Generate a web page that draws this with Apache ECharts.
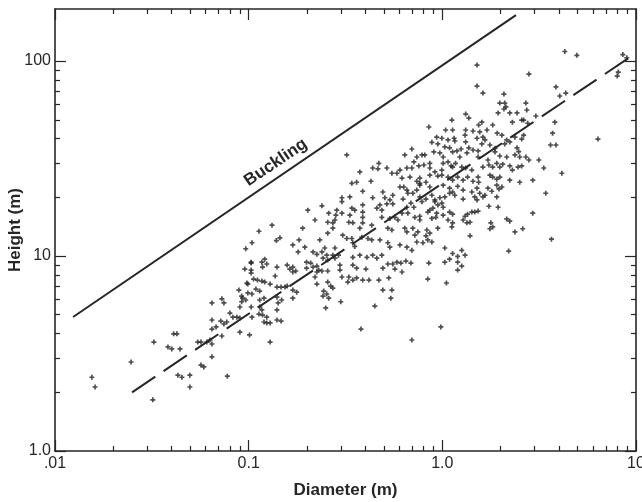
<!DOCTYPE html>
<html><head><meta charset="utf-8">
<script src="https://cdn.jsdelivr.net/npm/echarts@6/dist/echarts.min.js"></script>
<style>html,body{margin:0;padding:0;background:#fff}#c{width:642px;height:502px}</style>
</head><body><div id="c"></div><script>
// ---- axis ticks / labels ----
const xLabelValues = [0.01, 0.1, 1, 10];
const xLabelText = ['.01', '0.1', '1.0', '10'];
const xMinorValues = [0.02,0.03,0.04,0.05,0.06,0.07,0.08,0.09,0.2,0.3,0.4,0.5,0.6,0.7,0.8,0.9,2,3,4,5,6,7,8,9];
const yLabelValues = [1, 10, 100];
const yLabelText = ['1.0', '10', '100'];
const yMinorValues = [2,3,4,5,6,7,8,9,20,30,40,50,60,70,80,90];
const xRange = [0.01, 10];
const yRange = [1, 185];

// ---- reference lines ----
const bucklingLine = [[0.0124, 4.87], [2.4, 172]];
const fitLine = [[0.025, 2.0], [10, 110]];
const bucklingLabelAt = [0.138, 30.2];

// ---- trees: [diameter (m), height (m)] ----
const treesSmall = [
[0.0155,2.39],[0.0161,2.13],[0.0247,2.86],[0.032,1.83],[0.0324,3.62],[0.0383,3.42],[0.0401,3.34],[0.0442,3.34],[0.041,3.99],[0.0426,3.99],
[0.0546,3.62],[0.0567,3.62],[0.0567,2.76],[0.0587,2.7],[0.0431,2.45],[0.0452,2.39],[0.0497,2.45],[0.0497,2.13],
[0.0646,5.75],[0.0646,4.7],[0.0646,4.22],[0.0646,3.54],[0.0646,3.04],[0.0727,6.03],[0.0745,5.75],
[0.0679,4.33],[0.0718,4.64],[0.0745,4.48],[0.0771,4.59],[0.08,5.1],[0.0829,4.86],[0.0869,4.86],[0.0901,4.81],
[0.0776,2.42],[0.0901,5.48],[0.0978,7.27],[0.099,6.47],[0.0966,5.95],[0.101,3.94],[0.103,9.2],[0.103,8.47],[0.104,4.86],
[0.0631,3.71],[0.0608,3.62],[0.0727,3.89],[0.0901,4.07],[0.093,6.08],[0.092,5.83]
];
const treesMid = [
[0.239,18.1],[0.202,17.2],[0.22,15.3],[0.256,14.9],[0.132,14.4],[0.113,13.4],[0.19,13.9],[0.256,13.1],[0.145,12.4],[0.139,12.0],
[0.104,11.7],[0.182,12.1],[0.169,11.4],[0.18,10.5],[0.195,11.1],[0.233,12.1],[0.0966,10.9],
[0.215,10.5],[0.225,10.2],[0.239,10.5],[0.247,11.0],[0.253,10.1],[0.242,9.75],[0.256,9.53],
[0.103,9.3],[0.117,9.3],[0.121,9.64],[0.124,9.1],[0.118,8.78],[0.0955,8.57],[0.103,8.18],[0.14,8.78],
[0.158,8.99],[0.163,8.57],[0.169,8.78],[0.175,8.38],[0.169,8.28],
[0.199,9.3],[0.209,9.2],[0.199,8.67],[0.215,8.78],[0.225,8.88],[0.225,8.28],[0.23,8.47],[0.256,8.38],[0.137,7.9],
[0.106,7.62],[0.111,7.53],[0.117,7.44],[0.121,7.35],[0.099,7.18],[0.129,7.18],[0.22,7.81],[0.225,7.18],[0.256,7.35],
[0.14,6.93],[0.147,6.93],[0.154,6.93],[0.158,7.01],[0.109,6.77],[0.114,6.61],[0.089,6.69],[0.092,6.23],[0.104,6.39],[0.169,6.69],[0.177,6.53],
[0.103,5.48],[0.114,5.95],[0.12,6.08],[0.14,6.15],[0.142,5.75],[0.148,5.95],[0.169,6.08],
[0.114,5.48],[0.117,5.29],[0.113,5.04],[0.118,4.98],[0.124,4.86],[0.12,4.59],[0.124,4.54],[0.129,4.54],
[0.14,5.29],[0.25,5.42],[0.14,4.7],[0.147,4.64],[0.129,3.62]
];
const treesLarge = [
[0.852,45.9],[0.883,38.3],[0.696,35.4],[0.64,33.0],[0.713,30.4],[0.738,32.2],[0.785,33.0],[0.812,33.0],[0.904,34.2],[0.321,33.0],[0.47,29.9],[0.465,28.0],
[0.437,28.3],[0.517,28.3],[0.549,26.6],[0.583,26.6],[0.604,27.6],[0.375,27.0],[0.656,28.3],[0.696,28.3],[0.756,29.0],[0.803,29.3],[0.862,28.3],[0.915,27.0],
[0.68,25.4],[0.738,24.2],[0.765,23.6],[0.765,25.1],[0.823,23.9],[0.862,22.6],[0.619,25.1],[0.632,22.6],[0.341,23.6],[0.361,23.9],[0.428,24.2],[0.493,21.3],[0.505,19.9],[0.388,21.5],
[0.604,22.6],[0.656,21.8],[0.664,21.0],[0.704,21.0],[0.738,21.8],[0.765,23.1],[0.303,19.9],[0.303,19.0],[0.333,20.1],[0.437,19.9],
[0.555,20.5],[0.536,19.4],[0.517,18.5],[0.555,18.5],[0.627,19.6],[0.656,17.8],[0.688,18.7],[0.713,17.8],[0.765,20.1],[0.785,19.0],[0.823,19.6],[0.883,20.5],[0.915,19.4],[0.894,17.6],
[0.476,18.3],[0.459,17.6],[0.487,17.2],[0.341,17.6],[0.353,17.2],[0.388,18.3],[0.388,16.8],
[0.259,16.6],[0.285,17.2],[0.303,16.6],[0.282,16.2],[0.333,16.2],
[0.487,15.8],[0.536,15.6],[0.569,15.8],[0.59,15.3],[0.619,16.6],[0.664,16.6],[0.721,15.8],[0.765,16.0],[0.765,15.3],[0.841,16.8],[0.883,15.6],[0.926,15.8],
[0.272,14.8],[0.279,15.3],[0.329,14.9],[0.345,14.8],[0.388,15.8],[0.388,14.8],[0.432,14.4],[0.375,13.9],[0.523,13.9],[0.549,13.6],[0.64,13.9],[0.656,13.3],
[0.704,13.9],[0.747,13.3],[0.721,12.8],[0.832,13.6],[0.862,13.1],[0.823,12.7],[0.272,13.9],[0.306,12.8],[0.321,12.3],[0.341,12.3],[0.345,11.7],[0.353,11.2],
[0.384,12.5],[0.413,12.3],[0.432,12.1],[0.476,12.1],[0.523,11.7],[0.536,11.1],[0.604,11.4],[0.656,11.1],[0.696,10.7],[0.738,11.8],[0.794,11.7],[0.841,12.1],
[0.279,11.0],[0.272,10.1],
[0.345,9.85],[0.375,10.1],[0.408,9.85],[0.437,10.1],[0.459,9.75],[0.487,10.1],
[0.279,9.75],[0.291,10.1],[0.239,8.38],[0.296,8.99],[0.296,8.47],[0.345,8.99],[0.361,8.67],[0.403,8.57],
[0.493,8.67],[0.523,9.1],[0.555,9.1],[0.583,9.3],[0.611,9.2],[0.648,9.42],[0.688,9.2],[0.569,8.57],[0.619,8.28],[0.852,9.2],
[0.303,7.81],[0.329,7.81],[0.325,7.35],[0.345,7.53],[0.361,7.72],[0.388,7.53],[0.418,7.53],[0.47,7.53],[0.529,7.72],[0.841,7.62],[1.05,7.27],
[0.265,7.01],[0.272,6.85],[0.244,6.61],[0.242,6.23],[0.253,6.39],[0.259,6.08],[0.493,6.69],[0.549,6.69],[0.542,6.08],[0.299,5.83],[0.448,5.54],[0.38,4.22],[0.982,4.33],[0.696,3.71]
];
const treesGiant = [
[1.51,95.4],[2.8,85.8],[1.51,74.4],[1.62,68.5],[2.08,67.7],[1.98,60.9],[2.1,60.9],[2.13,58.2],[2.08,56.8],[2.7,60.9],[2.73,56.1],[1.32,53.5],[1.37,51.0],[1.94,54.2],[2.23,54.2],[2.43,54.2],
[2.3,48.6],[2.57,49.8],[2.63,49.8],[2.76,48.0],[3.04,52.3],[1.12,49.8],[1.6,48.6],[1.54,47.0],[1.82,47.0],[1.7,44.3],
[1.04,44.3],[1.13,44.3],[1.32,44.3],[1.44,43.8],[1.31,41.7],[1.56,43.3],[1.62,40.7],[1.51,40.2],[1.66,39.4],[1.6,37.6],
[1.92,42.7],[2.03,41.7],[2.15,39.4],[2.23,38.5],[2.1,37.6],[2.37,40.7],[2.57,39.8],[2.63,41.7],
[0.935,40.7],[0.994,40.2],[1.07,39.4],[1.15,40.2],[1.16,38.9],[0.948,37.6],[1.03,36.3],[1.09,35.9],[1.32,38.5],[1.37,35.9],[1.25,35.4],[1.76,37.1],[1.87,35.7],[2.43,35.9],[2.48,34.3],
[0.971,33.8],[1.01,32.2],[1.13,34.2],[1.19,34.6],[1.23,32.2],[1.34,33.8],[1.44,35.0],[1.53,34.6],[1.53,32.2],[1.87,34.2],[1.98,32.6],[2.15,32.2],[2.37,33.0],[2.51,32.2],[2.7,32.2],[2.8,31.1],[3.15,31.1],
[0.862,29.9],[0.994,27.6],[1.01,29.9],[1.07,30.4],[1.11,29.0],[1.13,28.6],[1.17,29.9],[1.26,28.6],[1.32,28.3],[1.42,27.6],[1.72,31.1],[1.74,29.3],[1.62,28.6],[1.82,28.6],[1.91,29.9],[1.98,28.6],[2.05,29.6],[2.23,29.0],[2.3,27.6],[2.46,28.6],[2.57,29.0],[3.34,28.3],
[0.862,26.0],[0.948,25.7],[0.994,26.0],[1.07,25.4],[1.13,24.5],[1.2,25.4],[1.28,24.5],[1.35,25.4],[1.44,24.2],[1.53,25.4],[1.54,23.9],[1.76,26.0],[1.82,25.4],[1.91,24.8],[1.98,25.4],[2.23,24.5],[2.51,23.9],[2.93,24.5],
[1.01,23.1],[1.09,22.3],[1.13,21.3],[1.2,22.8],[1.28,21.8],[1.42,21.3],[1.51,22.3],[1.56,21.0],[1.91,23.1],[2.03,22.6],[1.96,22.1],[1.72,22.3],[1.8,21.5],[3.42,21.0],
[0.971,19.9],[1.03,20.1],[1.09,21.0],[1.16,20.5],[1.28,19.6],[1.47,20.1],[1.51,19.4],[1.62,20.1],[1.66,20.5],[1.91,20.1],
[0.915,19.0],[0.948,18.3],[1.01,17.8],[0.994,18.7],[1.74,18.0],[1.94,17.8],[2.93,16.6],
[0.862,17.2],[0.935,16.6],[1.01,16.2],[1.09,16.8],[1.13,16.4],[1.31,16.0],[1.35,16.4],[1.42,16.8],[1.47,16.8],[1.53,17.0],
[1.28,15.3],[1.34,14.8],[1.39,14.9],[1.07,15.3],[1.13,14.8],[1.12,14.1],[2.15,15.5],[2.23,15.1],[1.78,14.8],[1.82,14.1],[1.76,13.8],[2.37,13.3],[2.6,13.8],[0.948,13.9],[1.39,12.7],[0.883,11.8],[2.2,10.6],
[1.03,11.0],[1.13,10.3],[1.2,9.96],[1.26,10.7],[1.31,10.1],[1.03,9.3],[1.09,9.64],[1.2,9.3],[1.26,8.88],[1.2,8.47],
[4.29,112],[4.95,107],[8.55,108],[8.96,104],[8.1,87.8],[8.0,83.8],[3.86,73.7],[4.04,66.2],[4.34,68.5],[3.81,48.6],[3.71,42.7],[3.62,37.1],[3.86,37.1],[6.36,39.8],[4.14,26.6],[3.66,12.2]
];
const trees = treesSmall.concat(treesMid, treesLarge, treesGiant);

const INK = '#262626';
const FONT = '"Liberation Sans", Arial, sans-serif';

function xAxisDef(pos, major, withLabels) {
  return {
    type: 'log', logBase: 10, min: xRange[0], max: xRange[1], position: pos, gridIndex: 0,
    axisLine: { show: major, onZero: false, lineStyle: { color: INK, width: 1.6 } },
    axisTick: { show: true, inside: true, length: major ? 11 : 5,
      customValues: major ? xLabelValues : xMinorValues, lineStyle: { color: INK, width: 1.2 } },
    axisLabel: { show: withLabels, customValues: xLabelValues, margin: 5,
      fontSize: 16, color: INK, fontFamily: FONT,
      formatter: v => xLabelText[xLabelValues.findIndex(t => Math.abs(Math.log10(t) - Math.log10(v)) < 0.01)] || '' },
    splitLine: { show: false }, minorTick: { show: false }, minorSplitLine: { show: false },
    name: withLabels ? 'Diameter (m)' : '', nameLocation: 'middle', nameGap: 31, nameMoveOverlap: false,
    nameTextStyle: { fontSize: 17, fontWeight: 'bold', color: INK, fontFamily: FONT }
  };
}
function yAxisDef(pos, major, withLabels) {
  return {
    type: 'log', logBase: 10, min: yRange[0], max: yRange[1], position: pos, gridIndex: 0,
    axisLine: { show: major, onZero: false, lineStyle: { color: INK, width: 1.6 } },
    axisTick: { show: true, inside: true, length: major ? 11 : 5,
      customValues: major ? yLabelValues : yMinorValues, lineStyle: { color: INK, width: 1.2 } },
    axisLabel: { show: withLabels, customValues: yLabelValues, margin: 4,
      fontSize: 16, color: INK, fontFamily: FONT,
      formatter: v => yLabelText[yLabelValues.findIndex(t => Math.abs(Math.log10(t) - Math.log10(v)) < 0.01)] || '' },
    splitLine: { show: false }, minorTick: { show: false }, minorSplitLine: { show: false },
    name: withLabels ? 'Height (m)' : '', nameLocation: 'middle', nameGap: 31, nameRotate: 90, nameMoveOverlap: false,
    nameTextStyle: { fontSize: 17, fontWeight: 'bold', color: INK, fontFamily: FONT }
  };
}

const chart = echarts.init(document.getElementById('c'), null, { renderer: 'canvas' });
chart.setOption({
  animation: false,
  backgroundColor: '#fff',
  grid: { left: 55, right: 6, top: 9, bottom: 51, containLabel: false, outerBoundsMode: 'none' },
  xAxis: [xAxisDef('bottom', true, true), xAxisDef('bottom', false, false), xAxisDef('top', true, false), xAxisDef('top', false, false)],
  yAxis: [yAxisDef('left', true, true), yAxisDef('left', false, false), yAxisDef('right', true, false), yAxisDef('right', false, false)],
  series: [
    { type: 'scatter', xAxisIndex: 0, yAxisIndex: 0, data: trees,
      symbol: 'path://M1 0h1v1h1v1h-1v1h-1v-1h-1v-1h1z', symbolSize: 5,
      itemStyle: { color: '#222' }, silent: true },
    { type: 'line', xAxisIndex: 0, yAxisIndex: 0, data: bucklingLine, showSymbol: false, symbol: 'none',
      lineStyle: { color: INK, width: 2 }, silent: true },
    { type: 'line', xAxisIndex: 0, yAxisIndex: 0, data: fitLine, showSymbol: false, symbol: 'none',
      lineStyle: { color: INK, width: 2, type: [28, 10] }, silent: true, clip: true }
  ]
});
const lp = chart.convertToPixel({ xAxisIndex: 0, yAxisIndex: 0 }, bucklingLabelAt);
chart.setOption({
  graphic: [{ type: 'text', x: lp[0], y: lp[1], rotation: 34 * Math.PI / 180,
    style: { text: 'Buckling', font: 'bold 17px ' + FONT, fill: INK, align: 'center', verticalAlign: 'middle' } }]
});
</script></body></html>
